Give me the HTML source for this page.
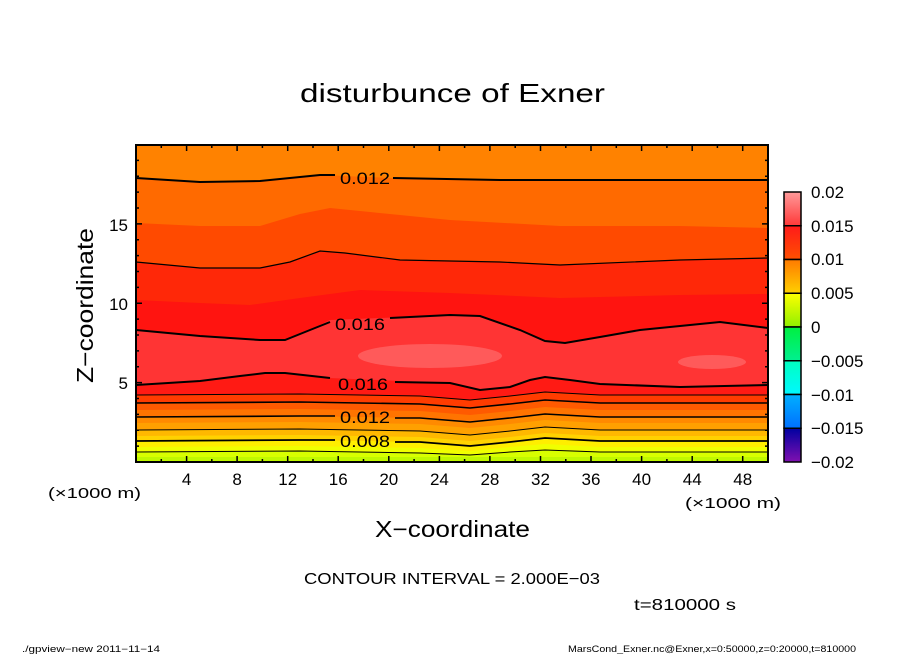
<!DOCTYPE html>
<html><head><meta charset="utf-8"><style>
body{margin:0;background:#fff}
svg{display:block;font-family:"Liberation Sans",sans-serif}
</style></head><body>
<svg width="904" height="654" viewBox="0 0 904 654" xmlns="http://www.w3.org/2000/svg">
<defs>
<clipPath id="c"><rect x="136" y="145" width="632" height="317"/></clipPath>
<linearGradient id="g1" x1="0" y1="0" x2="0" y2="1"><stop offset="0" stop-color="#ff9a9a"/><stop offset="1" stop-color="#ff3838"/></linearGradient>
<linearGradient id="g2" x1="0" y1="0" x2="0" y2="1"><stop offset="0" stop-color="#ff1a1a"/><stop offset="1" stop-color="#ff5000"/></linearGradient>
<linearGradient id="g3" x1="0" y1="0" x2="0" y2="1"><stop offset="0" stop-color="#ff7a00"/><stop offset="1" stop-color="#ffd000"/></linearGradient>
<linearGradient id="g4" x1="0" y1="0" x2="0" y2="1"><stop offset="0" stop-color="#ffff00"/><stop offset="1" stop-color="#90f000"/></linearGradient>
<linearGradient id="g6" x1="0" y1="0" x2="0" y2="1"><stop offset="0" stop-color="#00f040"/><stop offset="1" stop-color="#00f090"/></linearGradient>
<linearGradient id="g7" x1="0" y1="0" x2="0" y2="1"><stop offset="0" stop-color="#00ffc0"/><stop offset="1" stop-color="#00f8ff"/></linearGradient>
<linearGradient id="g8" x1="0" y1="0" x2="0" y2="1"><stop offset="0" stop-color="#00b0ff"/><stop offset="1" stop-color="#0070ff"/></linearGradient>
<linearGradient id="g10" x1="0" y1="0" x2="0" y2="1"><stop offset="0" stop-color="#0000a0"/><stop offset="1" stop-color="#8010b0"/></linearGradient>
</defs>

<text x="300" y="102" font-size="26" textLength="305" lengthAdjust="spacingAndGlyphs">disturbunce of Exner</text>

<g clip-path="url(#c)">
<rect x="136" y="145" width="632" height="317" fill="#ff8200"/>
<path d="M136,178 L200,182 260,181 320,175 390,178 500,180 600,180 768,180 L768,462 136,462Z" fill="#ff6a00"/>
<path d="M136,223 L200,226 260,226 300,214 330,208 370,212 450,220 560,226 680,226 768,228 L768,462 136,462Z" fill="#ff4a00"/>
<path d="M136,262 L200,268 260,268 290,262 320,251 345,253 400,260 500,262 560,265 680,260 768,258 L768,462 136,462Z" fill="#ff2808"/>
<path d="M136,300 L200,303 250,305 300,298 360,290 450,293 560,298 680,295 768,294 L768,462 136,462Z" fill="#ff1410"/>
<path d="M136,330 L200,336 260,340 285,340 310,330 330,320 380,318 450,315 480,316 520,330 545,341 565,343 600,337 640,330 720,322 768,328 L768,462 136,462Z" fill="#ff3434"/>
<ellipse cx="430" cy="356" rx="72" ry="12" fill="#ff5a5a"/>
<ellipse cx="712" cy="362" rx="34" ry="7" fill="#ff5a5a"/>
<path d="M136,385 L200,381 240,376 265,373 285,373 330,378 400,381 450,383 480,390 510,387 530,380 545,377 570,380 600,384 680,387 768,385 L768,462 136,462Z" fill="#ff1a14"/>
<path d="M136,395 L300,394 420,396 470,400 510,396 545,392 600,395 768,395 L768,462 136,462Z" fill="#ff3c00"/>
<path d="M136,403 L300,402 420,404 470,408 510,404 545,400 600,403 768,403 L768,462 136,462Z" fill="#ff5a00"/>
<path d="M136,410 L300,409 420,411 470,415 510,411 545,407 600,410 768,410 L768,462 136,462Z" fill="#ff7400"/>
<path d="M136,417 L300,416 420,418 470,422 510,418 545,414 600,417 768,417 L768,462 136,462Z" fill="#ff8a00"/>
<path d="M136,423 L300,422 420,424 470,428 510,424 545,420 600,423 768,423 L768,462 136,462Z" fill="#ffa000"/>
<path d="M136,430 L300,429 420,431 470,435 510,431 545,427 600,430 768,430 L768,462 136,462Z" fill="#ffb800"/>
<path d="M136,436 L300,435 420,437 470,441 510,437 545,433 600,436 768,436 L768,462 136,462Z" fill="#ffd200"/>
<path d="M136,441 L300,440 420,442 470,446 510,442 545,438 600,441 768,441 L768,462 136,462Z" fill="#ffee00"/>
<path d="M136,447 L300,446 420,448 470,451 510,447 545,444 600,447 768,447 L768,462 136,462Z" fill="#f0ff00"/>
<path d="M136,452 L300,451 420,453 470,455 510,452 545,450 600,452 768,452 L768,462 136,462Z" fill="#d8ff00"/>
<path d="M136,457 L768,457 768,462 136,462Z" fill="#c0f800"/>

<g fill="none" stroke="#000">
<path stroke-width="2" d="M136,178 L200,182 260,181 320,175 335,175 M393,178 L500,180 600,180 768,180"/>
<path stroke-width="1.2" d="M136,262 L200,268 260,268 290,262 320,251 345,253 400,260 500,262 560,265 680,260 768,258"/>
<path stroke-width="2" d="M136,330 L200,336 260,340 285,340 310,330 330,322 M390,318 L450,315 480,316 520,330 545,341 565,343 600,337 640,330 720,322 768,328"/>
<path stroke-width="2" d="M136,385 L200,381 240,376 265,373 285,373 330,378 M395,382 L450,383 480,390 510,387 530,380 545,377 570,380 600,384 680,387 768,385"/>
<path stroke-width="1" d="M136,395 L300,394 420,396 470,400 510,396 545,392 600,395 768,395"/>
<path stroke-width="1.6" d="M136,403 L300,402 420,404 470,408 510,404 545,400 600,403 768,403"/>
<path stroke-width="1.6" d="M136,417 L300,416 335,416 M395,418 L420,418 470,422 510,418 545,414 600,417 768,417"/>
<path stroke-width="1" d="M136,430 L300,429 420,431 470,435 510,431 545,427 600,430 768,430"/>
<path stroke-width="1.8" d="M136,441 L300,440 335,440 M395,442 L420,442 470,446 510,442 545,438 600,441 768,441"/>
<path stroke-width="1" d="M136,452 L300,451 420,453 470,455 510,452 545,450 600,452 768,452"/>
</g>
<g font-size="17">
<text x="340" y="184" textLength="50" lengthAdjust="spacingAndGlyphs">0.012</text>
<text x="335" y="330" textLength="50" lengthAdjust="spacingAndGlyphs">0.016</text>
<text x="338" y="390" textLength="50" lengthAdjust="spacingAndGlyphs">0.016</text>
<text x="340" y="423" textLength="50" lengthAdjust="spacingAndGlyphs">0.012</text>
<text x="340" y="447" textLength="50" lengthAdjust="spacingAndGlyphs">0.008</text>
</g>
</g>

<rect x="136" y="145" width="632" height="317" fill="none" stroke="#000" stroke-width="2"/>
<g stroke="#000" stroke-width="1.5">
<path d="M161.3,462v-3M186.6,462v-6M211.8,462v-3M237.1,462v-6M262.4,462v-3M287.7,462v-6M313,462v-3M338.2,462v-6M363.5,462v-3M388.8,462v-6M414.1,462v-3M439.4,462v-6M464.6,462v-3M489.9,462v-6M515.2,462v-3M540.5,462v-6M565.8,462v-3M591,462v-6M616.3,462v-3M641.6,462v-6M666.9,462v-3M692.2,462v-6M717.4,462v-3M742.7,462v-6"/>
<path d="M161.3,145v3M186.6,145v6M211.8,145v3M237.1,145v6M262.4,145v3M287.7,145v6M313,145v3M338.2,145v6M363.5,145v3M388.8,145v6M414.1,145v3M439.4,145v6M464.6,145v3M489.9,145v6M515.2,145v3M540.5,145v6M565.8,145v3M591,145v6M616.3,145v3M641.6,145v6M666.9,145v3M692.2,145v6M717.4,145v3M742.7,145v6"/>
<path d="M136,446.1h3M136,430.3h3M136,414.4h3M136,398.5h3M136,382.6h6M136,366.8h3M136,350.9h3M136,335h3M136,319.1h3M136,303.3h6M136,287.4h3M136,271.5h3M136,255.6h3M136,239.8h3M136,223.9h6M136,208h3M136,192.1h3M136,176.2h3M136,160.4h3"/>
<path d="M768,446.1h-3M768,430.3h-3M768,414.4h-3M768,398.5h-3M768,382.6h-6M768,366.8h-3M768,350.9h-3M768,335h-3M768,319.1h-3M768,303.3h-6M768,287.4h-3M768,271.5h-3M768,255.6h-3M768,239.8h-3M768,223.9h-6M768,208h-3M768,192.1h-3M768,176.2h-3M768,160.4h-3"/>
</g>

<g font-size="17" text-anchor="middle">
<text x="186.6" y="485">4</text><text x="237.1" y="485">8</text><text x="287.7" y="485">12</text><text x="338.2" y="485">16</text><text x="388.8" y="485">20</text><text x="439.4" y="485">24</text><text x="489.9" y="485">28</text><text x="540.5" y="485">32</text><text x="591" y="485">36</text><text x="641.6" y="485">40</text><text x="692.2" y="485">44</text><text x="742.7" y="485">48</text>
</g>
<g font-size="17" text-anchor="end">
<text x="128" y="389">5</text><text x="128" y="310">10</text><text x="128" y="231">15</text>
</g>
<text x="48" y="498" font-size="15" textLength="93" lengthAdjust="spacingAndGlyphs">(×1000 m)</text>
<text x="685" y="508" font-size="15" textLength="96" lengthAdjust="spacingAndGlyphs">(×1000 m)</text>
<text x="375" y="537" font-size="23" textLength="155" lengthAdjust="spacingAndGlyphs">X−coordinate</text>
<text transform="translate(93,383) rotate(-90)" font-size="23" textLength="155" lengthAdjust="spacingAndGlyphs">Z−coordinate</text>
<text x="304" y="584" font-size="16" textLength="296" lengthAdjust="spacingAndGlyphs">CONTOUR INTERVAL = 2.000E−03</text>
<text x="634" y="610" font-size="16" textLength="102" lengthAdjust="spacingAndGlyphs">t=810000 s</text>
<text x="22" y="652" font-size="9" textLength="138" lengthAdjust="spacingAndGlyphs">./gpview−new  2011−11−14</text>
<text x="568" y="652" font-size="9" textLength="288" lengthAdjust="spacingAndGlyphs">MarsCond_Exner.nc@Exner,x=0:50000,z=0:20000,t=810000</text>

<g stroke="#000" stroke-width="1.5">
<rect x="784" y="192" width="17" height="33.75" fill="url(#g1)"/>
<rect x="784" y="225.75" width="17" height="33.75" fill="url(#g2)"/>
<rect x="784" y="259.5" width="17" height="33.75" fill="url(#g3)"/>
<rect x="784" y="293.25" width="17" height="33.75" fill="url(#g4)"/>
<rect x="784" y="327" width="17" height="33.75" fill="url(#g6)"/>
<rect x="784" y="360.75" width="17" height="33.75" fill="url(#g7)"/>
<rect x="784" y="394.5" width="17" height="33.75" fill="url(#g8)"/>
<rect x="784" y="428.25" width="17" height="33.75" fill="url(#g10)"/>
</g>
<g font-size="17">
<text x="811" y="198">0.02</text>
<text x="811" y="232">0.015</text>
<text x="811" y="265">0.01</text>
<text x="811" y="299">0.005</text>
<text x="811" y="333">0</text>
<text x="811" y="367">−0.005</text>
<text x="811" y="401">−0.01</text>
<text x="811" y="434">−0.015</text>
<text x="811" y="468">−0.02</text>
</g>
</svg>
</body></html>
